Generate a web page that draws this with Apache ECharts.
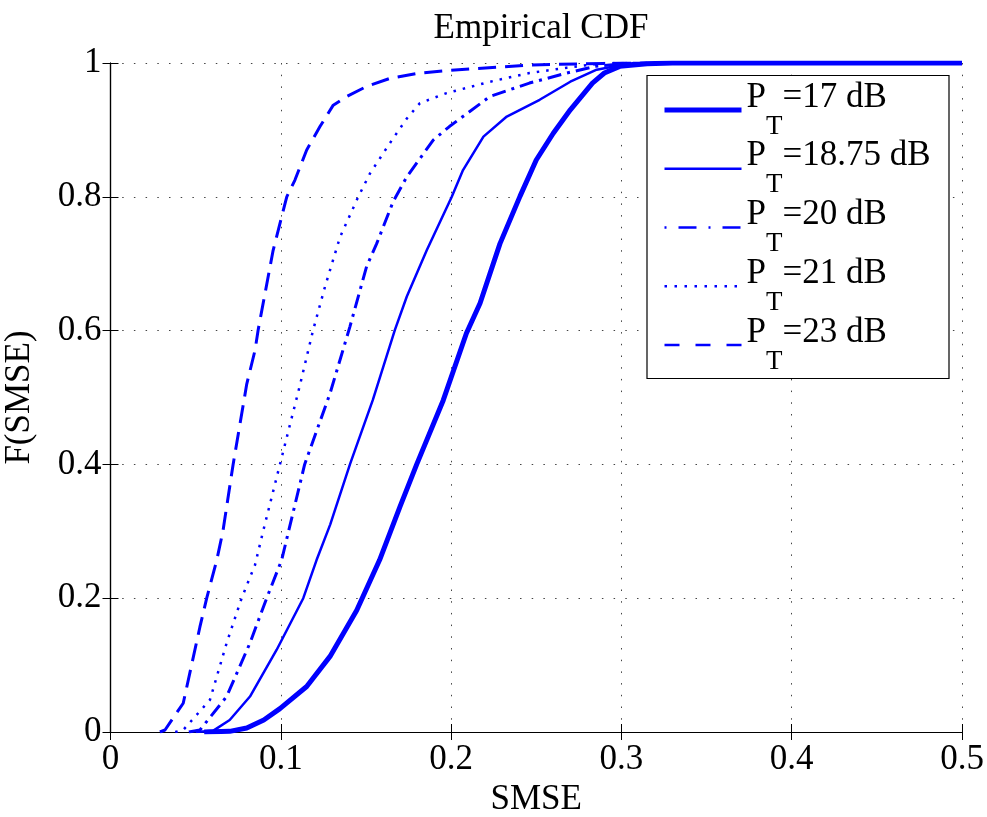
<!DOCTYPE html>
<html>
<head>
<meta charset="utf-8">
<script src="https://cdn.jsdelivr.net/npm/echarts@6/dist/echarts.min.js"></script>
<style>html,body{margin:0;padding:0;background:#fff}#c{width:987px;height:817px}</style>
</head>
<body>
<div id="c"></div>
<script>
// Data (x = SMSE, y = F(SMSE))
const seriesNames = ['P_T=17 dB', 'P_T=18.75 dB', 'P_T=20 dB', 'P_T=21 dB', 'P_T=23 dB'];
const xTicks = [0, 0.1, 0.2, 0.3, 0.4, 0.5];
const yTicks = [0, 0.2, 0.4, 0.6, 0.8, 1];

const cdf17 = [[0.055,0],[0.07,0.001],[0.08,0.006],[0.09,0.018],[0.0995,0.035],[0.1152,0.068],[0.1289,0.113],
  [0.1446,0.182],[0.158,0.257],[0.17,0.337],[0.1798,0.4],[0.1954,0.496],[0.209,0.596],[0.217,0.641],
  [0.2287,0.73],[0.2405,0.801],[0.25,0.855],[0.26,0.895],[0.27,0.93],[0.283,0.97],[0.29,0.985],
  [0.299,0.995],[0.315,0.999],[0.33,1],[0.5,1]];
const cdf1875 = [[0.05,0],[0.0604,0.002],[0.07,0.018],[0.0819,0.053],[0.0976,0.123],[0.1132,0.2],[0.121,0.257],
  [0.129,0.31],[0.1406,0.4],[0.154,0.496],[0.167,0.601],[0.174,0.651],[0.1857,0.72],[0.2004,0.8],[0.207,0.84],
  [0.219,0.89],[0.2327,0.92],[0.252,0.945],[0.27,0.972],[0.2855,0.99],[0.3,0.997],[0.315,1],[0.5,1]];
const cdf20 = [[0.046,0],[0.0525,0.003],[0.0682,0.053],[0.0819,0.133],[0.0917,0.2],[0.1005,0.257],
  [0.114,0.4],[0.1289,0.506],[0.1406,0.606],[0.1504,0.696],[0.1563,0.73],[0.166,0.793],[0.174,0.83],
  [0.1896,0.885],[0.199,0.905],[0.2228,0.95],[0.246,0.97],[0.268,0.985],[0.285,0.995],[0.305,1],[0.5,1]];
const cdf21 = [[0.038,0],[0.0427,0.003],[0.0584,0.048],[0.0682,0.133],[0.077,0.2],[0.0849,0.25],[0.0896,0.3],
  [0.0995,0.4],[0.111,0.516],[0.119,0.601],[0.126,0.666],[0.1348,0.74],[0.1455,0.8],[0.1524,0.835],
  [0.164,0.88],[0.174,0.917],[0.1817,0.94],[0.1974,0.955],[0.2228,0.972],[0.246,0.985],[0.268,0.993],
  [0.29,1],[0.5,1]];
const cdf23 = [[0.029,0],[0.032,0.003],[0.0427,0.043],[0.0525,0.157],[0.0565,0.2],[0.0624,0.257],[0.066,0.3],
  [0.072,0.4],[0.08,0.52],[0.0849,0.571],[0.0867,0.601],[0.0955,0.72],[0.1035,0.8],[0.1083,0.825],
  [0.1152,0.87],[0.123,0.905],[0.1308,0.937],[0.1387,0.95],[0.1504,0.965],[0.164,0.977],[0.1817,0.985],
  [0.199,0.989],[0.246,0.997],[0.3,1],[0.5,1]];
const seriesData = [cdf17, cdf1875, cdf20, cdf21, cdf23];

const FONT = "'Liberation Serif', 'Times New Roman', Times, serif";
const BLUE = '#0000ff';
const lineStyles = [
  {width: 5, type: 'solid'},
  {width: 2.5, type: 'solid'},
  {width: 3, type: [14, 6, 3, 6]},
  {width: 2.5, type: [2.5, 7]},
  {width: 3, type: [18, 9]}
];
const legendLineStyles = [
  {width: 5, type: 'solid'},
  {width: 2.5, type: 'solid'},
  {width: 2.5, type: [2, 12, 18, 12]},
  {width: 2.5, type: [2.5, 7.5]},
  {width: 2.5, type: [15, 16]}
];

const chart = echarts.init(document.getElementById('c'));
const gridLine = {show: true, lineStyle: {color: '#444', width: 1, type: [1.5, 10.2]}};
const tickIn = {show: true, inside: true, length: 8, lineStyle: {color: '#000', width: 1}};
const axisLine = {show: true, lineStyle: {color: '#000', width: 1.2}};

chart.setOption({
  animation: false,
  backgroundColor: '#fff',
  title: {
    text: 'Empirical CDF', left: 536, top: 6, textAlign: 'center',
    textStyle: {fontFamily: FONT, fontSize: 35, fontWeight: 'normal', color: '#000'}
  },
  grid: {left: 110.5, right: 25, top: 63, bottom: 85, containLabel: false, outerBoundsMode: 'none'},
  xAxis: [{
    type: 'value', min: 0, max: 0.5, interval: 0.1, position: 'bottom',
    name: 'SMSE', nameLocation: 'middle', nameGap: 48,
    nameTextStyle: {fontFamily: FONT, fontSize: 35, color: '#000'},
    axisLine: axisLine, axisTick: tickIn, splitLine: gridLine,
    axisLabel: {fontFamily: FONT, fontSize: 35, color: '#000', margin: 10,
      formatter: v => String(xTicks.find(t => Math.abs(t - v) < 1e-9) ?? v)}
  }, {
    type: 'value', min: 0, max: 0.5, interval: 0.1, position: 'top',
    axisLine: axisLine, axisTick: tickIn, splitLine: {show: false}, axisLabel: {show: false}
  }],
  yAxis: [{
    type: 'value', min: 0, max: 1, interval: 0.2, position: 'left',
    name: 'F(SMSE)', nameLocation: 'middle', nameGap: 73, nameRotate: 90,
    nameTextStyle: {fontFamily: FONT, fontSize: 35, color: '#000'},
    axisLine: axisLine, axisTick: tickIn, splitLine: gridLine,
    axisLabel: {fontFamily: FONT, fontSize: 35, color: '#000', margin: 9,
      formatter: v => String(yTicks.find(t => Math.abs(t - v) < 1e-9) ?? v)}
  }, {
    type: 'value', min: 0, max: 1, interval: 0.2, position: 'right',
    axisLine: axisLine, axisTick: tickIn, splitLine: {show: false}, axisLabel: {show: false}
  }],
  graphic: [{
    type: 'rect', z: 3, shape: {x: 647, y: 75.5, width: 302, height: 303},
    style: {fill: '#fff', stroke: '#000', lineWidth: 1.2}
  }],
  legend: {
    orient: 'vertical', left: 647, top: 75, z: 5,
    padding: [5, 10, 6, 15], itemGap: -1.25, itemWidth: 77, itemHeight: 14,
    itemStyle: {opacity: 0, color: 'transparent', borderWidth: 0},
    data: seriesNames.map((n, i) => ({name: n, lineStyle: Object.assign({color: BLUE}, legendLineStyles[i])})),
    formatter: name => {
      const rest = name.split('_T')[1];
      return '{z|\u200b}{p|P}{s|T}{q|' + rest + '}';
    },
    textStyle: {
      color: '#000',
      rich: {
        z: {fontFamily: FONT, fontSize: 35, lineHeight: 60, verticalAlign: 'middle', color: '#000'},
        p: {fontFamily: FONT, fontSize: 35, lineHeight: 54, verticalAlign: 'top', color: '#000'},
        q: {fontFamily: FONT, fontSize: 35, lineHeight: 54, verticalAlign: 'top', color: '#000'},
        s: {fontFamily: FONT, fontSize: 27, lineHeight: 32, verticalAlign: 'bottom', color: '#000'}
      }
    }
  },
  series: seriesNames.map((n, i) => ({
    name: n, type: 'line', data: seriesData[i], symbol: 'none', showSymbol: false,
    xAxisIndex: 0, yAxisIndex: 0,
    smooth: false,
    lineStyle: Object.assign({color: BLUE, cap: 'butt'}, lineStyles[i]),
    itemStyle: {color: BLUE}
  }))
});
</script>
</body>
</html>
